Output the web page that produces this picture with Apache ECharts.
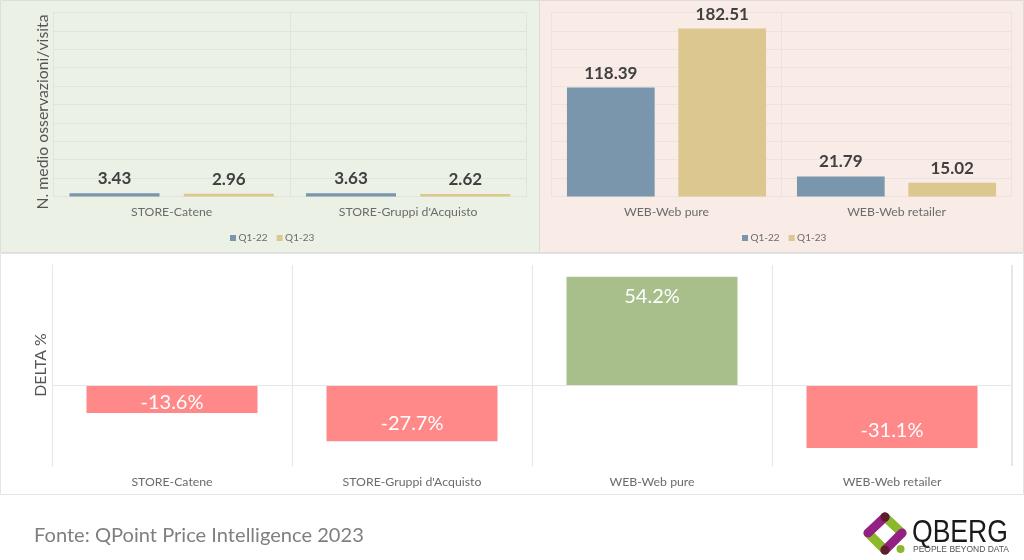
<!DOCTYPE html>
<html><head><meta charset="utf-8">
<style>html,body{margin:0;padding:0;background:#fff}#c{width:1024px;height:560px}</style>
<script src="https://cdn.jsdelivr.net/npm/echarts@6/dist/echarts.min.js"></script>
</head><body><div id="c"></div>
<script>
const storeCategories = ["STORE-Catene", "STORE-Gruppi d'Acquisto"];
const webCategories = ["WEB-Web pure", "WEB-Web retailer"];
const deltaCategories = ["STORE-Catene", "STORE-Gruppi d'Acquisto", "WEB-Web pure", "WEB-Web retailer"];
const storeQ122 = [3.43, 3.63];
const storeQ123 = [2.96, 2.62];
const webQ122 = [118.39, 21.79];
const webQ123 = [182.51, 15.02];
const deltaValues = [-13.6, -27.7, 54.2, -31.1];
const seriesNames = ["Q1-22", "Q1-23"];

const FONT = "Lato";
const BLUE = "#7a96ac", TAN = "#dcc78f", RED = "#ff8888", GREEN = "#a8bf8c";
const chart = echarts.init(document.getElementById('c'), null, {renderer:'canvas'});

function xAxisFor(i, data, lineCol){
  return {type:'category', gridIndex:i, data,
    axisTick:{show:false},
    axisLine:{show:true, lineStyle:{color:lineCol, width:1}},
    axisLabel:{color:'#6b6b6b', fontFamily:FONT, fontSize:12.3, margin:10},
    splitLine:{show:true, interval:0, lineStyle:{color:lineCol, width:1}}};
}
function yAxisTop(i, lineCol){
  return {type:'value', gridIndex:i, min:0, max:200, interval:20,
    axisLabel:{show:false}, axisTick:{show:false},
    axisLine:{show:true, lineStyle:{color:lineCol}},
    splitLine:{show:true, lineStyle:{color:lineCol, width:1}}};
}
function barSeries(name, i, data, color, width){
  return {type:'bar', name, xAxisIndex:i, yAxisIndex:i, data, barWidth:width, barGap:'27%',
    itemStyle:{color},
    label:{show:true, position:'top', distance:6, formatter:p=>p.value.toFixed(2),
      color:'#404040', fontFamily:FONT, fontWeight:'bold', fontSize:17}};
}
const legendBase = {icon:'rect', itemWidth:6, itemHeight:6, itemGap:9, top:228,
  data:seriesNames, textStyle:{color:'#6b6b6b', fontFamily:FONT, fontSize:10, padding:[0,0,0,-2.5]}};

chart.setOption({
  animation:false,
  backgroundColor:'#ffffff',
  grid:[
    {left:53.4, top:12.5, width:473, height:184},
    {left:551.5, top:12.5, width:460, height:184},
    {left:52, top:265, width:960, height:201}
  ],
  xAxis:[
    xAxisFor(0, storeCategories, '#dfe4df'),
    xAxisFor(1, webCategories, '#ebe3e1'),
    Object.assign(xAxisFor(2, deltaCategories, '#e6e6e6'), {axisLine:{show:false, onZero:false}, position:'bottom'})
  ],
  yAxis:[
    yAxisTop(0,'#dfe4df'),
    yAxisTop(1,'#ebe3e1'),
    {type:'value', gridIndex:2, min:-40, max:60, interval:20,
      axisLabel:{show:false}, axisTick:{show:false}, splitLine:{show:false},
      axisLine:{show:true, lineStyle:{color:'#e6e6e6'}}}
  ],
  legend:[
    Object.assign({left:225}, legendBase),
    Object.assign({left:737}, legendBase)
  ],
  series:[
    barSeries(seriesNames[0],0,storeQ122,BLUE,90),
    barSeries(seriesNames[1],0,storeQ123,TAN,90),
    barSeries(seriesNames[0],1,webQ122,BLUE,87.7),
    barSeries(seriesNames[1],1,webQ123,TAN,87.7),
    {type:'bar', name:'DELTA %', xAxisIndex:2, yAxisIndex:2, barWidth:171,
      data:deltaValues.map(v=>({value:v,
        itemStyle:{color:v<0?RED:GREEN},
        label:{position:v<0?'insideBottom':'insideTop', distance:v>0?10:(Math.abs(v)<20?0:7.5)}})),
      label:{show:true, formatter:p=>p.value.toFixed(1)+'%', color:'#ffffff', fontFamily:FONT, fontSize:20},
      markLine:{silent:true, symbol:'none', label:{show:false}, data:[{yAxis:0}],
        lineStyle:{color:'#e6e6e6', width:1, type:'solid'}}}
  ],
  graphic:[
    {type:'rect', z:-10, shape:{x:0.5,y:0.5,width:539,height:252}, style:{fill:'#ecf1e6',stroke:'#dcdfdc'}},
    {type:'rect', z:-10, shape:{x:539.5,y:0.5,width:484,height:252}, style:{fill:'#f9ebe5',stroke:'#dcdcdc'}},
    {type:'rect', z:-10, shape:{x:0.5,y:253.5,width:1023,height:241}, style:{fill:'#ffffff',stroke:'#e4e4e4'}},
    {type:'line', shape:{x1:526.5,y1:12.5,x2:526.5,y2:196.5}, style:{stroke:'#dfe4df',lineWidth:1}},
    {type:'line', shape:{x1:1011.5,y1:12.5,x2:1011.5,y2:196.5}, style:{stroke:'#ebe3e1',lineWidth:1}},
    {type:'line', shape:{x1:1011.5,y1:265,x2:1011.5,y2:466}, style:{stroke:'#e6e6e6',lineWidth:1}},
    {type:'text', x:42.5, y:112, rotation:Math.PI/2, style:{text:'N. medio osservazioni/visita', fill:'#555555', font:'15.8px Lato', textAlign:'center', textVerticalAlign:'middle'}},
    {type:'text', x:41, y:365, rotation:Math.PI/2, style:{text:'DELTA %', fill:'#555555', font:'15.8px Lato', textAlign:'center', textVerticalAlign:'middle'}},
    {type:'text', x:34, y:536, style:{text:'Fonte: QPoint Price Intelligence 2023', fill:'#7f7f7f', font:'20.1px Lato', textVerticalAlign:'middle'}},
    // logo
    {type:'line', shape:{x1:885,y1:517,x2:902,y2:533}, style:{stroke:'#8cb82b',lineWidth:9,lineCap:'round'}},
    {type:'line', shape:{x1:868,y1:533,x2:885,y2:550}, style:{stroke:'#8cb82b',lineWidth:9,lineCap:'round'}},
    {type:'line', shape:{x1:885,y1:517,x2:868,y2:533}, style:{stroke:'#932082',lineWidth:9,lineCap:'round'}},
    {type:'line', shape:{x1:902,y1:533,x2:885,y2:550}, style:{stroke:'#932082',lineWidth:9,lineCap:'round'}},
    {type:'circle', shape:{cx:885,cy:517,r:4.5}, style:{fill:'#5a1f2a'}},
    {type:'circle', shape:{cx:885,cy:550,r:4.5}, style:{fill:'#5a1f2a'}},
    {type:'circle', shape:{cx:900.5,cy:549,r:4}, style:{fill:'#8cb82b'}},
    {type:'text', x:912, y:533.5, scaleX:0.83, style:{text:'QBERG', fill:'#1a1a1a', font:'32px "Liberation Sans"', textVerticalAlign:'middle'}},
    {type:'text', x:913, y:550, style:{text:'PEOPLE BEYOND DATA', fill:'#555555', font:'8.5px "Liberation Sans"', textVerticalAlign:'middle'}}
  ]
});
</script></body></html>
